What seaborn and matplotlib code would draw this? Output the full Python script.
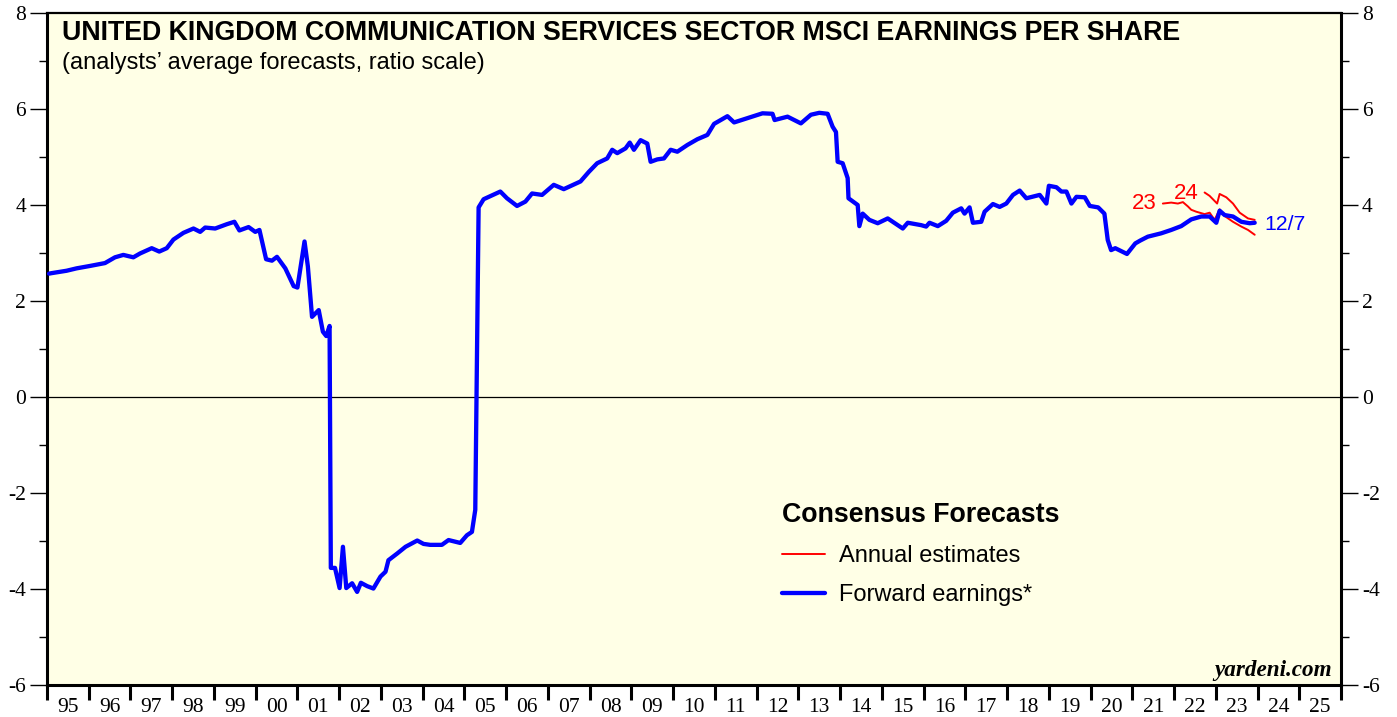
import pandas as pd
import matplotlib
matplotlib.use("Agg")
import matplotlib.pyplot as plt
from matplotlib.lines import Line2D
import seaborn as sns

# Forward earnings (blue): fractional year -> EPS
blue_years = [
    1995.05, 1995.11, 1995.47, 1995.71, 1996.03, 1996.39, 1996.63, 1996.83,
    1997.07, 1997.23, 1997.51, 1997.69, 1997.87, 1998.03, 1998.27, 1998.51,
    1998.67, 1998.79, 1999.03, 1999.31, 1999.49, 1999.61, 1999.83, 1999.99,
    2000.09, 2000.25, 2000.39, 2000.51, 2000.71, 2000.91, 2001.0, 2001.17,
    2001.25, 2001.35, 2001.51, 2001.61, 2001.69, 2001.77, 2001.8, 2001.9,
    2002.01, 2002.09, 2002.17, 2002.31, 2002.43, 2002.52, 2002.67, 2002.82,
    2002.99, 2003.11, 2003.18, 2003.39, 2003.59, 2003.87, 2004.02, 2004.18,
    2004.46, 2004.62, 2004.9, 2005.06, 2005.18, 2005.26, 2005.34, 2005.46,
    2005.86, 2006.02, 2006.26, 2006.46, 2006.62, 2006.86, 2007.14, 2007.38,
    2007.78, 2007.98, 2008.18, 2008.42, 2008.54, 2008.66, 2008.86, 2008.96,
    2009.06, 2009.22, 2009.38, 2009.46, 2009.62, 2009.78, 2009.94, 2010.1,
    2010.34, 2010.58, 2010.82, 2010.98, 2011.3, 2011.46, 2011.78, 2012.14,
    2012.38, 2012.43, 2012.74, 2013.06, 2013.3, 2013.5, 2013.7, 2013.82,
    2013.9, 2013.94, 2014.06, 2014.18, 2014.2, 2014.42, 2014.46, 2014.54,
    2014.7, 2014.9, 2015.14, 2015.26, 2015.5, 2015.62, 2015.94, 2016.06,
    2016.14, 2016.34, 2016.54, 2016.7, 2016.9, 2016.98, 2017.1, 2017.18,
    2017.38, 2017.46, 2017.66, 2017.82, 2017.98, 2018.14, 2018.3, 2018.46,
    2018.78, 2018.94, 2019.0, 2019.18, 2019.3, 2019.42, 2019.54, 2019.66,
    2019.86, 2019.98, 2020.18, 2020.33, 2020.41, 2020.49, 2020.59, 2020.87,
    2021.07, 2021.19, 2021.37, 2021.69, 2021.93, 2022.17, 2022.41, 2022.65,
    2022.85, 2023.01, 2023.09, 2023.21, 2023.41, 2023.61, 2023.81, 2023.93,
]
blue_eps = [
    2.57, 2.58, 2.63, 2.68, 2.73, 2.79, 2.91, 2.96,
    2.91, 2.99, 3.10, 3.03, 3.10, 3.28, 3.42, 3.51,
    3.44, 3.53, 3.51, 3.60, 3.65, 3.47, 3.54, 3.44,
    3.48, 2.87, 2.84, 2.92, 2.68, 2.31, 2.28, 3.24,
    2.72, 1.67, 1.81, 1.36, 1.27, 1.48, -3.56, -3.56,
    -3.98, -3.12, -3.98, -3.88, -4.06, -3.87, -3.94, -3.99,
    -3.74, -3.64, -3.40, -3.26, -3.12, -2.99, -3.06, -3.08,
    -3.08, -2.98, -3.04, -2.88, -2.81, -2.35, 3.95, 4.12,
    4.28, 4.14, 3.98, 4.07, 4.24, 4.21, 4.42, 4.33,
    4.49, 4.69, 4.87, 4.97, 5.15, 5.08, 5.18, 5.30,
    5.15, 5.35, 5.28, 4.90, 4.95, 4.97, 5.15, 5.11,
    5.25, 5.37, 5.46, 5.69, 5.85, 5.72, 5.81, 5.91,
    5.90, 5.77, 5.84, 5.70, 5.88, 5.92, 5.90, 5.63,
    5.52, 4.90, 4.87, 4.56, 4.14, 4.00, 3.56, 3.82,
    3.69, 3.62, 3.72, 3.65, 3.51, 3.63, 3.58, 3.55,
    3.63, 3.56, 3.67, 3.84, 3.93, 3.82, 3.95, 3.63,
    3.65, 3.86, 4.02, 3.96, 4.03, 4.21, 4.30, 4.14,
    4.21, 4.03, 4.40, 4.37, 4.28, 4.28, 4.03, 4.17,
    4.16, 3.98, 3.95, 3.82, 3.27, 3.06, 3.10, 2.98,
    3.20, 3.26, 3.34, 3.41, 3.48, 3.56, 3.70, 3.76,
    3.76, 3.63, 3.88, 3.79, 3.76, 3.65, 3.62, 3.63,
]

# Annual estimates (red)
fy23_years = [2021.73, 2021.93, 2022.09, 2022.21, 2022.33, 2022.41, 2022.53, 2022.73,
              2022.85, 2022.97, 2023.09, 2023.21, 2023.41, 2023.61, 2023.77, 2023.93]
fy23_eps = [4.03, 4.05, 4.03, 4.06, 3.97, 3.90, 3.86, 3.81,
            3.84, 3.69, 3.91, 3.77, 3.65, 3.55, 3.48, 3.38]
fy24_years = [2022.73, 2022.85, 2023.03, 2023.09, 2023.25, 2023.41, 2023.57, 2023.77, 2023.93]
fy24_eps = [4.26, 4.19, 4.03, 4.23, 4.16, 4.03, 3.84, 3.72, 3.69]

year_labels = ["95", "96", "97", "98", "99", "00", "01", "02", "03", "04", "05",
               "06", "07", "08", "09", "10", "11", "12", "13", "14", "15", "16",
               "17", "18", "19", "20", "21", "22", "23", "24", "25"]

blue_df = pd.DataFrame({"year": blue_years, "eps": blue_eps})
fy23_df = pd.DataFrame({"year": fy23_years, "eps": fy23_eps})
fy24_df = pd.DataFrame({"year": fy24_years, "eps": fy24_eps})

sns.set_style("ticks")
plt.rcParams["font.family"] = ["Liberation Sans", "DejaVu Sans"]
plt.rcParams["axes.unicode_minus"] = False
for key in ["text.color", "axes.labelcolor", "xtick.color", "ytick.color", "axes.edgecolor"]:
    plt.rcParams[key] = "black"

BG = "#ffffe6"
RED = "#ff0000"
BLUE = "#0000ff"
serif = ["Liberation Serif", "DejaVu Serif"]

fig = plt.figure(figsize=(13.97, 7.17), dpi=100)
ax = fig.add_axes([0.0336, 0.0446, 0.9264, 0.9373])
ax.set_facecolor(BG)

ax.axhline(0, color="black", lw=0.9, zorder=1)

sns.lineplot(data=fy23_df, x="year", y="eps", ax=ax, color=RED, lw=1.4, zorder=2)
sns.lineplot(data=fy24_df, x="year", y="eps", ax=ax, color=RED, lw=1.4, zorder=2)
sns.lineplot(data=blue_df, x="year", y="eps", ax=ax, color=BLUE, lw=3.1, zorder=3)

ax.set_xlim(1995, 2026)
ax.set_ylim(-6, 8)
ax.set_xlabel("")
ax.set_ylabel("")

# x axis: ticks at year boundaries, labels centred in each year
ax.set_xticks(range(1995, 2027))
ax.set_xticklabels([])
ax.set_xticks([1995.5 + i for i in range(len(year_labels))], minor=True)
ax.set_xticklabels(year_labels, minor=True, fontfamily=serif, fontsize=15.5)
ax.tick_params(axis="x", which="major", direction="out", length=11, width=2.2)
ax.tick_params(axis="x", which="minor", length=0, pad=9)

# y axis on both sides
ax.set_yticks(range(-6, 9, 2))
ax.set_yticks(range(-5, 8, 2), minor=True)
ax.tick_params(axis="y", which="both", left=True, right=True,
               labelleft=True, labelright=True, width=1)
ax.tick_params(axis="y", which="major", length=12, pad=3)
ax.tick_params(axis="y", which="minor", length=6)
for lab in ax.get_yticklabels():
    lab.set_fontfamily(serif)
    lab.set_fontsize(15.5)

for side in ["left", "right", "bottom"]:
    ax.spines[side].set_linewidth(2.2)
ax.spines["top"].set_linewidth(1.6)
for s in ax.spines.values():
    s.set_visible(True)
    s.set_color("black")

# titles
ax.text(0.0116, 0.970, "UNITED KINGDOM COMMUNICATION SERVICES SECTOR MSCI EARNINGS PER SHARE",
        transform=ax.transAxes, fontsize=19.3, fontweight="bold", va="center", ha="left")
ax.text(0.0116, 0.926, "(analysts\u2019 average forecasts, ratio scale)",
        transform=ax.transAxes, fontsize=17, va="center", ha="left")

# series labels
ax.text(2021.57, 4.04, "23", color=RED, fontsize=16, ha="right", va="center")
ax.text(2022.29, 4.23, "24", color=RED, fontsize=16, ha="center", va="center")
ax.text(2024.16, 3.6, "12/7", color=BLUE, fontsize=15.3, ha="left", va="center")

ax.text(0.993, 0.022, "yardeni.com", transform=ax.transAxes, fontfamily=serif,
        fontsize=16.7, fontweight="bold", fontstyle="italic", ha="right", va="center")

handles = [Line2D([], [], color=RED, lw=1.4), Line2D([], [], color=BLUE, lw=3.1)]
leg = ax.legend(handles, ["Annual estimates", "Forward earnings*"],
                title="Consensus Forecasts", loc="upper left",
                bbox_to_anchor=(0.568, 0.272), frameon=False, fontsize=17,
                title_fontproperties={"weight": "bold", "size": 19.3},
                alignment="left", borderpad=0, handlelength=1.8,
                handletextpad=0.6, labelspacing=0.72, borderaxespad=0)

fig.savefig("out.png", dpi=100, facecolor="white")
